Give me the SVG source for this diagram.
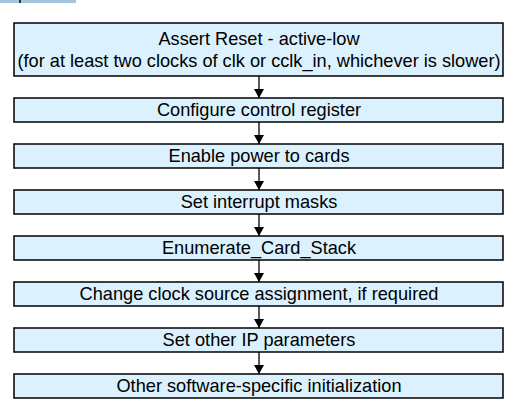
<svg xmlns="http://www.w3.org/2000/svg" width="519" height="413" viewBox="0 0 519 413">
  <style>
    .box { fill: #dbf1fd; stroke: #000; stroke-width: 1.5; }
    .lbl { font-family: "Liberation Sans", Arial, sans-serif; font-size: 18.2px; fill: #000; text-anchor: middle; }
    .link { stroke: #000; stroke-width: 1.3; fill: none; marker-end: url(#arrow); }
  </style>
  <defs>
    <marker id="arrow" viewBox="0 0 9 10" refX="9" refY="5" markerWidth="9" markerHeight="10" markerUnits="userSpaceOnUse" orient="auto">
      <path d="M0,0 L9,5 L0,10 Z" fill="#000"/>
    </marker>
  </defs>
  <rect x="0" y="0" width="76" height="3" fill="#a3c6de"/>
  <rect x="19" y="0" width="2" height="3" fill="#333"/>

  <g id="connectors">
    <line class="link" x1="259" y1="76" x2="259" y2="98"/>
    <line class="link" x1="259" y1="122" x2="259" y2="144"/>
    <line class="link" x1="259" y1="168" x2="259" y2="190"/>
    <line class="link" x1="259" y1="214" x2="259" y2="236"/>
    <line class="link" x1="259" y1="260" x2="259" y2="282"/>
    <line class="link" x1="259" y1="306" x2="259" y2="328"/>
    <line class="link" x1="259" y1="352" x2="259" y2="374"/>
  </g>

  <g id="reset">
    <rect class="box" x="14" y="23" width="489" height="53"/>
    <text class="lbl" x="259" y="45">Assert Reset - active-low</text>
    <text class="lbl" x="259" y="67">(for at least two clocks of clk or cclk_in, whichever is slower)</text>
  </g>
  <g id="config">
    <rect class="box" x="14" y="98" width="489" height="24"/>
    <text class="lbl" x="259" y="116">Configure control register</text>
  </g>
  <g id="power">
    <rect class="box" x="14" y="144" width="489" height="24"/>
    <text class="lbl" x="259" y="162">Enable power to cards</text>
  </g>
  <g id="masks">
    <rect class="box" x="14" y="190" width="489" height="24"/>
    <text class="lbl" x="259" y="208">Set interrupt masks</text>
  </g>
  <g id="enumerate">
    <rect class="box" x="14" y="236" width="489" height="24"/>
    <text class="lbl" x="259" y="254">Enumerate_Card_Stack</text>
  </g>
  <g id="clock">
    <rect class="box" x="14" y="282" width="489" height="24"/>
    <text class="lbl" x="259" y="300">Change clock source assignment, if required</text>
  </g>
  <g id="params">
    <rect class="box" x="14" y="328" width="489" height="24"/>
    <text class="lbl" x="259" y="346">Set other IP parameters</text>
  </g>
  <g id="init">
    <rect class="box" x="14" y="374" width="489" height="24"/>
    <text class="lbl" x="259" y="392">Other software-specific initialization</text>
  </g>
</svg>
